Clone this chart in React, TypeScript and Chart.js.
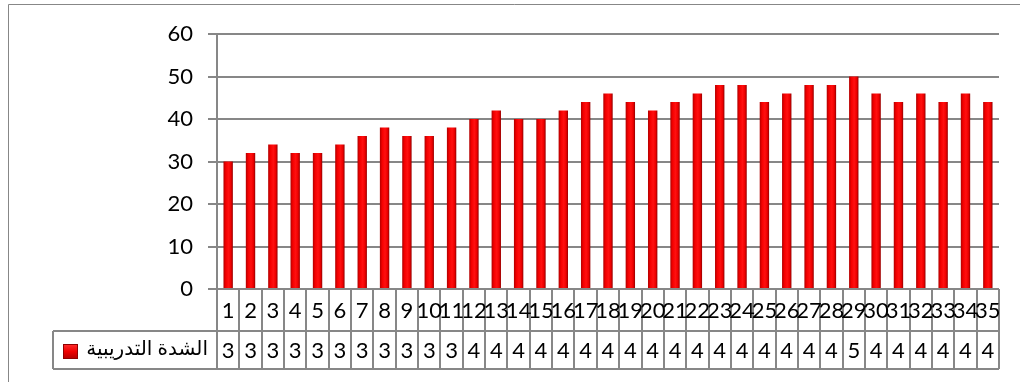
import React, { useEffect, useRef } from "react";
import { Chart, registerables } from "chart.js";

Chart.register(...registerables);

const categories: string[] = [
  "1", "2", "3", "4", "5", "6", "7", "8", "9", "10", "11", "12", "13", "14", "15", "16", "17", "18",
  "19", "20", "21", "22", "23", "24", "25", "26", "27", "28", "29", "30", "31", "32", "33", "34", "35",
];
const intensity: number[] = [
  30, 32, 34, 32, 32, 34, 36, 38, 36, 36, 38, 40, 42, 40, 40, 42, 44, 46,
  44, 42, 44, 46, 48, 48, 44, 46, 48, 48, 50, 46, 44, 46, 44, 46, 44,
];
const seriesName = "الشدة التدريبية";
const yMin = 0;
const yMax = 60;
const yStep = 10;

const GRID = "#878787";
const FONT = "Lato, 'DejaVu Sans', sans-serif";

function barGradient(ctx: CanvasRenderingContext2D, x: number, w: number) {
  const g = ctx.createLinearGradient(x - w / 2, 0, x + w / 2, 0);
  g.addColorStop(0, "#B00000");
  g.addColorStop(0.25, "#F50000");
  g.addColorStop(0.55, "#FF1010");
  g.addColorStop(0.8, "#EE0000");
  g.addColorStop(1, "#940000");
  return g;
}

const tablePlugin = {
  id: "dataTable",
  afterDraw(chart: any) {
    const ctx: CanvasRenderingContext2D = chart.ctx;
    const xs = chart.scales.x;
    const area = chart.chartArea;
    const n = categories.length;
    const colW = (area.right - area.left) / n;
    const row1Top = area.bottom;
    const row1Bottom = row1Top + 42;
    const row2Bottom = row1Bottom + 38;
    const legendLeft = 53;

    ctx.save();
    ctx.strokeStyle = GRID;
    ctx.lineWidth = 1;
    ctx.beginPath();
    ctx.moveTo(8.5, chart.height);
    ctx.lineTo(8.5, 4.5);
    ctx.lineTo(chart.width, 4.5);
    ctx.stroke();

    ctx.strokeStyle = GRID;
    ctx.lineWidth = 2;
    ctx.beginPath();
    for (let i = 0; i <= n; i++) {
      const x = Math.round(area.left + i * colW);
      ctx.moveTo(x, row1Top);
      ctx.lineTo(x, row2Bottom);
    }
    ctx.moveTo(legendLeft, row1Bottom);
    ctx.lineTo(area.right, row1Bottom);
    ctx.moveTo(legendLeft, row2Bottom);
    ctx.lineTo(area.right, row2Bottom);
    ctx.moveTo(legendLeft, row1Bottom);
    ctx.lineTo(legendLeft, row2Bottom);
    ctx.stroke();

    ctx.fillStyle = "#000";
    ctx.font = `22px ${FONT}`;
    ctx.textAlign = "center";
    ctx.textBaseline = "middle";
    for (let i = 0; i < n; i++) {
      const cx = xs.getPixelForValue(i);
      ctx.fillText(categories[i], cx, (row1Top + row1Bottom) / 2 + 1);
      // Excel truncates the value to what fits in the narrow cell
      const txt = String(intensity[i]).charAt(0);
      ctx.fillText(txt, cx, (row1Bottom + row2Bottom) / 2 + 1);
    }

    const kx = 63, ky = 344, ks = 15;
    const kg = ctx.createLinearGradient(kx, ky, kx, ky + ks);
    kg.addColorStop(0, "#FF3030");
    kg.addColorStop(0.5, "#F00000");
    kg.addColorStop(1, "#B00000");
    ctx.fillStyle = kg;
    ctx.fillRect(kx, ky, ks, ks);
    ctx.strokeStyle = "#900000";
    ctx.lineWidth = 1;
    ctx.strokeRect(kx + 0.5, ky + 0.5, ks - 1, ks - 1);

    ctx.fillStyle = "#000";
    ctx.font = `20px ${FONT}`;
    ctx.textAlign = "right";
    ctx.direction = "rtl";
    ctx.fillText(seriesName, 208, (row1Bottom + row2Bottom) / 2 - 1);
    ctx.restore();
  },
};

export default function App() {
  const ref = useRef<HTMLCanvasElement | null>(null);

  useEffect(() => {
    if (!ref.current) return;
    const chart = new Chart(ref.current, {
      type: "bar",
      data: {
        labels: categories,
        datasets: [
          {
            label: seriesName,
            data: intensity,
            backgroundColor: (c: any) => {
              const ch = c.chart;
              const xs = ch.scales && ch.scales.x;
              if (c.type !== "data" || !xs || !ch.chartArea || !xs.width) return "#E80000";
              const x = xs.getPixelForValue(c.dataIndex);
              const w = (xs.width / categories.length) * 0.42;
              return barGradient(ch.ctx, x, w);
            },
            borderWidth: 0,
            categoryPercentage: 1,
            barPercentage: 0.42,
          },
        ],
      },
      options: {
        animation: false,
        responsive: true,
        maintainAspectRatio: false,
        layout: { padding: { left: 0, top: 34, right: 21, bottom: 0 } },
        plugins: {
          legend: { display: false },
          tooltip: { enabled: false },
        },
        scales: {
          x: {
            grid: { display: false },
            border: { display: false },
            ticks: { display: false },
            afterFit: (s: any) => {
              s.height = 93;
            },
          },
          y: {
            min: yMin,
            max: yMax,
            ticks: {
              stepSize: yStep,
              color: "#000",
              font: { family: FONT, size: 22 },
              padding: 15,
            },
            grid: { color: GRID, lineWidth: 2, tickLength: 9, drawTicks: true },
            border: { display: true, color: GRID, width: 2 },
            afterFit: (s: any) => {
              s.width = 217;
            },
          },
        },
      },
      plugins: [tablePlugin],
    });
    return () => chart.destroy();
  }, []);

  return (
    <div style={{ position: "absolute", left: 0, top: 0, width: 1020, height: 382, background: "#fff" }}>
      <canvas ref={ref} />
    </div>
  );
}
